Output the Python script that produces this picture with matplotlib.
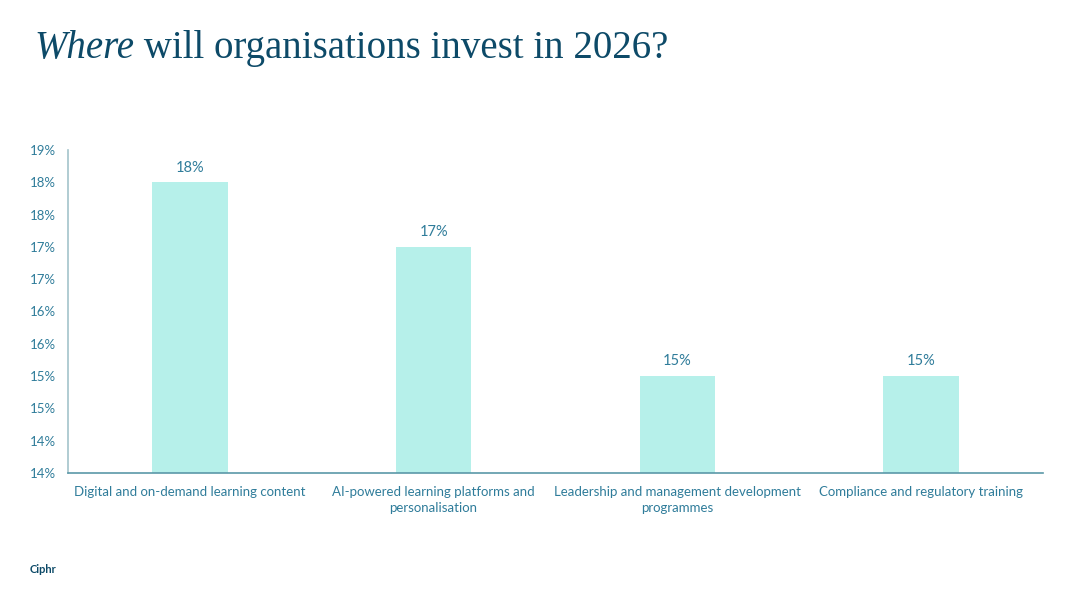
import numpy as np
import matplotlib.pyplot as plt

# Data
categories = [
    "Digital and on-demand learning content",
    "AI-powered learning platforms and\npersonalisation",
    "Leadership and management development\nprogrammes",
    "Compliance and regulatory training",
]
values = [18.5, 17.5, 15.5, 15.5]
value_labels = ["18%", "17%", "15%", "15%"]
ytick_values = [14.0, 14.5, 15.0, 15.5, 16.0, 16.5, 17.0, 17.5, 18.0, 18.5, 19.0]
ytick_labels = ["14%", "14%", "15%", "15%", "16%", "16%", "17%", "17%", "18%", "18%", "19%"]

title_color = "#0d4a68"
text_color = "#2f7c9a"
bar_color = "#b6f0ea"

plt.rcParams['font.family'] = ['Lato', 'DejaVu Sans']

fig = plt.figure(figsize=(10.81, 6.07), dpi=100)
ax = fig.add_axes([68 / 1081, 1 - 473 / 607, 975 / 1081, 323 / 607])

x = np.arange(len(categories))
bars = ax.bar(x, values, width=0.31, color=bar_color, zorder=2)

# Value labels above bars
for b, lab in zip(bars, value_labels):
    ax.annotate(lab, (b.get_x() + b.get_width() / 2, b.get_height()),
                xytext=(0, 5.5), textcoords='offset points',
                ha='center', va='bottom', fontsize=10.5, color=text_color)

ax.set_xlim(-0.5, 3.5)
ax.set_ylim(14, 19)
ax.set_yticks(ytick_values)
ax.set_yticklabels(ytick_labels)
ax.set_xticks(x)
ax.set_xticklabels(categories, fontsize=9.5, color=text_color, linespacing=1.4)
ax.tick_params(axis='y', length=0, pad=9, labelsize=9.5, labelcolor=text_color)
ax.tick_params(axis='x', length=0, pad=9)

for s in ['top', 'right']:
    ax.spines[s].set_visible(False)
ax.spines['left'].set_color('#a3c3cb')
ax.spines['left'].set_linewidth(1.2)
ax.spines['bottom'].set_color('#5b98a8')
ax.spines['bottom'].set_linewidth(1.2)

# Title: italic first word, then the rest
t1 = fig.text(34 / 1081, 1 - 58 / 607, "Where", fontsize=28, style='italic',
              family='Liberation Serif', color=title_color, va='baseline')
ax.annotate(" will organisations invest in 2026?", xy=(1, 0), xycoords=t1,
            fontsize=28, family='Liberation Serif', color=title_color,
            va='bottom', ha='left', annotation_clip=False)

# Logo
fig.text(30 / 1081, 1 - 573 / 607, "Ciphr", fontsize=8, fontweight='bold',
         color=title_color, va='baseline')

fig.savefig("out.png", dpi=100)
